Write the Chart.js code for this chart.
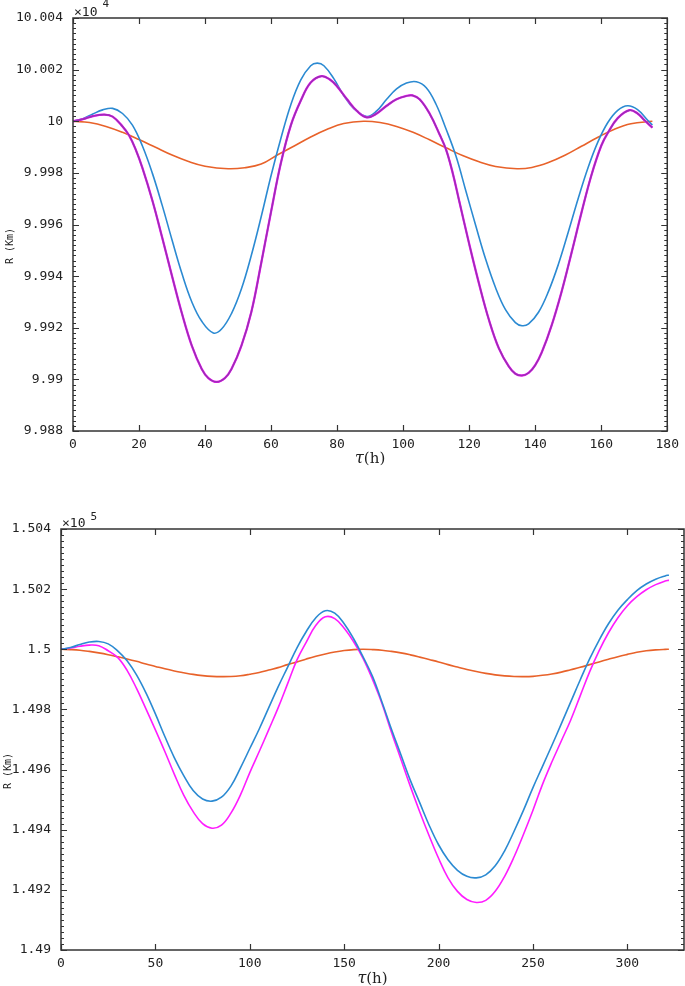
<!DOCTYPE html>
<html>
<head>
<meta charset="utf-8">
<script src="https://cdn.jsdelivr.net/npm/chart.js@4.4.1/dist/chart.umd.min.js"></script>
<style>
  body { margin: 0; background: #fff; }
  .box { position: absolute; left: 0; width: 685px; }
  #top { top: 0; height: 475px; }
  #bottom { top: 485px; height: 501px; }
</style>
</head>
<body>
<div class="box" id="top"><canvas id="topChart"></canvas></div>
<div class="box" id="bottom"><canvas id="bottomChart"></canvas></div>
<script>
// ---- top panel: tau (h) vs R (km) ----
const topXTicks = [0, 20, 40, 60, 80, 100, 120, 140, 160, 180];
const topYTicks = [99880, 99900, 99920, 99940, 99960, 99980, 100000, 100020, 100040];

const topBlueT = [0, 3, 6, 9, 12, 15, 18, 21, 24, 27, 30, 33, 36, 39, 42.5, 45, 48, 51, 54, 57, 60, 63, 66, 69, 72,
  74, 76, 79, 82, 85, 89, 92, 95, 98, 101, 104, 107, 110, 113, 116, 119, 122, 125, 128, 131, 134,
  136, 138, 141, 144, 147, 150, 153, 156, 159, 162, 165, 168, 171, 174, 175.5];
const topBlueR = [100000, 100001, 100002.8, 100004.4, 100005, 100003, 99998.5, 99990.5, 99980, 99967.5, 99954, 99941, 99930, 99922.5,
  99918, 99919.5, 99925.5, 99935, 99948, 99963, 99979, 99993.5, 100006.5, 100016, 100021.5,
  100022.5, 100021.5, 100016.5, 100010, 100005, 100001.8,
  100004, 100008.5, 100012.5, 100014.8, 100015.3, 100013, 100006.5, 99997, 99986.5, 99973, 99959.5, 99946.5, 99935.5, 99927, 99922,
  99920.8, 99921.5, 99926, 99934, 99944.5, 99957, 99970, 99982, 99992, 99999.5, 100004.2, 100006, 100004.5, 100000.5, 99998.5];

const topPurpleT = [0, 3, 6, 9.5, 12, 15, 17, 19, 21, 24, 27, 30, 33, 36, 39, 41, 43.5, 46, 48, 51,
  54, 57, 60, 63, 66, 69, 72, 75.3, 78, 80, 83, 86, 89, 92, 95, 98, 101, 102.8, 105, 108,
  111, 113, 115, 117, 120, 123, 126, 129, 132, 134, 136, 138, 140, 142, 145, 148, 151, 154, 157, 160,
  162, 165, 168.6, 171, 173, 175.5];
const topPurpleR = [100000, 100000.8, 100002, 100002.6, 100001.8, 99998, 99994.5, 99989, 99982, 99969.5,
  99955, 99940, 99925.5, 99913, 99904, 99900.5, 99899, 99900.5, 99904, 99913,
  99926, 99945, 99965, 99984, 99998.5, 100008, 100015, 100017.5, 100016, 100013.5,
  100008.5, 100004, 100001.5, 100003, 100006, 100008.5, 100009.8, 100010, 100008.5, 100003,
  99995, 99989, 99980, 99969, 99952.5, 99937, 99923, 99912, 99905, 99902.2,
  99901.5, 99902.5, 99905.5, 99910.5, 99921, 99934, 99949, 99964.5, 99979, 99990.5,
  99995.5, 100001.2, 100004.3, 100003, 100000.5, 99997.5];

const topOrangeT = [0, 5, 10, 15, 20, 25, 30, 35, 40, 47, 52, 57, 62, 67, 72, 77, 82, 88, 93, 98,
  103, 108, 113, 118, 123, 128, 134.5, 139, 144, 149, 154, 159, 164, 169, 175.5];
const topOrangeR = [100000, 99999.5, 99998, 99995.7, 99992.9, 99989.9, 99986.9, 99984.4, 99982.6, 99981.6,
  99982, 99983.4, 99987, 99990.4, 99993.9, 99996.9, 99999.1, 100000, 99999.5, 99998,
  99995.7, 99992.8, 99989.7, 99986.7, 99984.3, 99982.5, 99981.6, 99982.1, 99984, 99986.8,
  99990.3, 99993.8, 99996.9, 99999, 100000];

// ---- bottom panel ----
const bottomXTicks = [0, 50, 100, 150, 200, 250, 300];
const bottomYTicks = [149000, 149200, 149400, 149600, 149800, 150000, 150200, 150400];

const bottomT = [0, 5, 10, 15, 20, 25, 30, 35, 40, 45, 50, 55, 60, 65, 70, 75, 80, 85, 90, 95,
  100, 105, 110, 115, 120, 125, 130, 135, 140, 145, 150, 155, 160, 165, 170, 175, 180, 185, 190, 195,
  200, 205, 210, 215, 220, 225, 230, 235, 240, 245, 250, 255, 260, 265, 270, 275, 280, 285, 290, 295,
  300, 305, 310, 315, 320, 322];
const bottomBlueR = [150000, 150006, 150016, 150024, 150026, 150018, 149995, 149962, 149915, 149855,
  149785, 149710, 149640, 149580, 149530, 149502, 149495, 149508, 149545, 149605,
  149670, 149735, 149805, 149875, 149940, 150005, 150060, 150105, 150128, 150120,
  150085, 150035, 149975, 149910, 149825, 149735, 149650, 149565, 149490, 149415,
  149350, 149300, 149265, 149245, 149240, 149250, 149280, 149330, 149395, 149465,
  149540, 149610, 149680, 149752, 149825, 149898, 149968, 150030, 150085, 150130,
  150165, 150195, 150217, 150233, 150244, 150247];
const bottomMagentaR = [150000, 150004, 150010, 150014, 150012, 149995, 149973, 149930, 149870, 149802,
  149732, 149660, 149585, 149515, 149460, 149420, 149405, 149415, 149455, 149515,
  149590, 149660, 149732, 149805, 149885, 149965, 150025, 150080, 150108, 150102,
  150070, 150025, 149970, 149900, 149820, 149725, 149635, 149545, 149460, 149380,
  149305, 149240, 149195, 149168, 149158, 149165, 149195, 149245, 149310, 149385,
  149465, 149550, 149625, 149695, 149765, 149845, 149925, 149995, 150055, 150105,
  150145, 150175, 150198, 150215, 150227, 150230];
const bottomOrangeR = [150000, 149999, 149997, 149993, 149988, 149982, 149975, 149968, 149960, 149951,
  149943, 149935, 149928, 149922, 149916.5, 149912.5, 149910, 149909, 149909.5, 149912,
  149917, 149923, 149931, 149939, 149949, 149958, 149968, 149977, 149984.5, 149991,
  149996, 149999, 150000, 149999, 149997, 149993, 149988, 149981.5, 149974, 149966,
  149958, 149949, 149941, 149933, 149926, 149920, 149915, 149911.5, 149909.5, 149909,
  149910, 149913.5, 149918, 149924, 149932, 149940, 149949, 149958, 149967, 149975.5,
  149983, 149990, 149995, 149998, 149999.7, 150000];

const BLUE = '#2b8ad2';
const ORANGE = '#e8622a';
const PURPLE = '#9e2db8';
const MAGENTA = '#ff1cff';
const INK = '#333';

function series(t, r) {
  return t.map((x, i) => ({ x: x, y: r[i] }));
}

function line(data, color, width) {
  return { data: data, borderColor: color, borderWidth: width, pointRadius: 0, fill: false,
    tension: 0.4 };
}

// frame with inward ticks, axis titles and the x10^n exponent
const frameTicks = {
  id: 'frameTicks',
  afterDraw(chart, args, o) {
    const { ctx, chartArea: a, scales: { x, y } } = chart;
    ctx.save();
    ctx.strokeStyle = INK;
    ctx.lineWidth = 1.5;
    ctx.strokeRect(a.left, a.top, a.right - a.left, a.bottom - a.top);

    ctx.lineWidth = 1.2;
    ctx.beginPath();
    x.ticks.forEach(t => {
      const px = Math.round(x.getPixelForValue(t.value)) + 0.5;
      ctx.moveTo(px, a.bottom); ctx.lineTo(px, a.bottom - 6);
      ctx.moveTo(px, a.top); ctx.lineTo(px, a.top + 6);
    });
    const n = Math.round((y.max - y.min) / o.minor);
    const every = Math.round(o.major / o.minor);
    for (let i = 0; i <= n; i++) {
      const py = Math.round(y.getPixelForValue(y.min + i * o.minor)) + 0.5;
      const len = i % every === 0 ? 6 : 3;
      ctx.moveTo(a.left, py); ctx.lineTo(a.left + len, py);
      ctx.moveTo(a.right, py); ctx.lineTo(a.right - len, py);
    }
    ctx.stroke();

    ctx.fillStyle = '#222';
    ctx.textBaseline = 'alphabetic';
    // exponent
    ctx.font = '13px "DejaVu Sans Mono"';
    ctx.textAlign = 'left';
    ctx.fillText('\u00d710', a.left + 1, a.top - 2);
    const w = ctx.measureText('\u00d710').width;
    ctx.font = '11px "DejaVu Sans Mono"';
    ctx.fillText(o.exponent, a.left + w + 6, a.top - o.expRise);

    // x title
    const cx = (a.left + a.right) / 2;
    ctx.font = 'italic 16px "DejaVu Serif"';
    const wt = ctx.measureText('\u03c4').width;
    ctx.font = '15px "DejaVu Serif"';
    const wh = ctx.measureText('(h)').width;
    const x0 = cx - (wt + wh) / 2;
    ctx.font = 'italic 16px "DejaVu Serif"';
    ctx.fillText('\u03c4', x0, o.xTitleY);
    ctx.font = '15px "DejaVu Serif"';
    ctx.fillText('(h)', x0 + wt, o.xTitleY);

    // y title
    ctx.translate(o.yTitleX, o.yTitleY);
    ctx.rotate(-Math.PI / 2);
    ctx.font = '10px "DejaVu Sans Mono"';
    ctx.textAlign = 'center';
    ctx.textBaseline = 'middle';
    ctx.fillText('R (Km)', 0, 0);
    ctx.restore();
  }
};

const tickFont = { family: 'DejaVu Sans Mono', size: 13 };

function axes(xmin, xmax, xTicks, ymin, ymax, yTicks, yWidth, xHeight, scale) {
  return {
    x: {
      type: 'linear', min: xmin, max: xmax,
      afterBuildTicks: s => { s.ticks = xTicks.map(v => ({ value: v })); },
      afterFit: s => { s.height = xHeight; },
      grid: { display: false, drawTicks: false },
      border: { display: false },
      ticks: { font: tickFont, color: '#222', padding: 6, maxRotation: 0, autoSkip: false }
    },
    y: {
      type: 'linear', min: ymin, max: ymax,
      afterBuildTicks: s => { s.ticks = yTicks.map(v => ({ value: v })); },
      afterFit: s => { s.width = yWidth; },
      grid: { display: false, drawTicks: false },
      border: { display: false },
      ticks: { font: tickFont, color: '#222', padding: 10, autoSkip: false,
        callback: v => String(+(v / scale).toFixed(4)) }
    }
  };
}

new Chart(document.getElementById('topChart'), {
  type: 'line',
  data: {
    datasets: [
      line(series(topPurpleT, topPurpleR), PURPLE, 1.7),
      line(series(topPurpleT, topPurpleR), MAGENTA, 2.3),
      line(series(topBlueT, topBlueR), BLUE, 1.6),
      line(series(topOrangeT, topOrangeR), ORANGE, 1.6)
    ]
  },
  options: {
    responsive: true, maintainAspectRatio: false, animation: false,
    layout: { padding: { left: 0, right: 14, top: 18, bottom: 0 } },
    plugins: {
      legend: { display: false }, tooltip: { enabled: false },
      frameTicks: { minor: 2, major: 20, exponent: '4', expRise: 11, xTitleY: 463, yTitleX: 10, yTitleY: 246 }
    },
    scales: axes(0, 180, topXTicks, 99880, 100040, topYTicks, 73, 44, 1e4)
  },
  plugins: [frameTicks]
});

new Chart(document.getElementById('bottomChart'), {
  type: 'line',
  data: {
    datasets: [
      line(series(bottomT, bottomBlueR), BLUE, 1.6),
      line(series(bottomT, bottomMagentaR), MAGENTA, 1.6),
      line(series(bottomT, bottomOrangeR), ORANGE, 1.6)
    ]
  },
  options: {
    responsive: true, maintainAspectRatio: false, animation: false,
    layout: { padding: { left: 0, right: 1, top: 44, bottom: 0 } },
    plugins: {
      legend: { display: false }, tooltip: { enabled: false },
      frameTicks: { minor: 20, major: 200, exponent: '5', expRise: 9, xTitleY: 498, yTitleX: 8, yTitleY: 286 }
    },
    scales: axes(0, 330, bottomXTicks, 149000, 150400, bottomYTicks, 61, 36, 1e5)
  },
  plugins: [frameTicks]
});
</script>
</body>
</html>
